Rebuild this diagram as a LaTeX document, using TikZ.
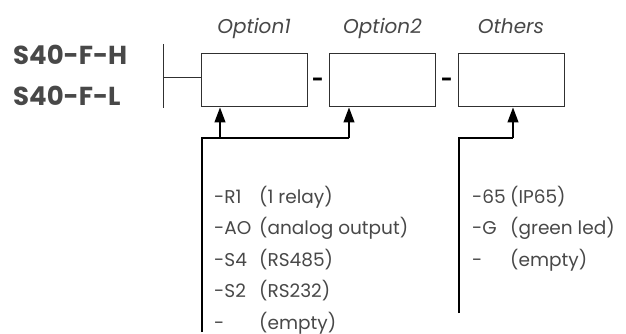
\documentclass[tikz,border=0pt]{standalone}
\usepackage{fontspec}
\setmainfont{Poppins}
\usetikzlibrary{arrows.meta}
\definecolor{txtgray}{HTML}{484848}
\definecolor{linegray}{HTML}{303030}
\tikzset{
  optbox/.style={draw=linegray,line width=1pt,minimum width=106pt,minimum height=53pt,inner sep=0pt},
  optlabel/.style={anchor=base,text=txtgray,font=\fontsize{20}{22}\selectfont\itshape},
  typename/.style={anchor=base west,text=txtgray,font=\fontsize{26}{28}\selectfont\bfseries,inner sep=0pt},
  listtxt/.style={anchor=base west,text=txtgray,font=\fontsize{18.5}{20}\selectfont,inner sep=0pt},
  feed/.style={draw=black,line width=1.3pt},
  arr/.style={feed,-{Triangle[length=15pt,width=11pt]}}
}
\begin{document}
\begin{tikzpicture}[x=1pt,y=-1pt]
            \useasboundingbox (0,0) rectangle (626,334);
            % type names
            \node[typename] (typeH) at (13,65) {S40-F-H};
            \node[typename] (typeL) at (13,106) {S40-F-L};
            % boxes
            \node[optbox] (opt1) at (254,80.5) {};
            \node[optbox] (opt2) at (382.5,80.5) {};
            \node[optbox] (others) at (511,80.5) {};
            \node[optlabel] (lab1) at (opt1.north |- 0,34) {Option1};
            \node[optlabel] (lab2) at (opt2.north |- 0,34) {Option2};
            \node[optlabel] (lab3) at (others.north |- 0,34) {Others};
            \node[font=\fontsize{20}{22}\selectfont\bfseries] (sep1) at (318,82) {-};
            \node[font=\fontsize{20}{22}\selectfont\bfseries] (sep2) at (447,82) {-};
            % bar
            \coordinate (bartop) at (163,44);
            \coordinate (barbot) at (163,108);
            \coordinate (barmid) at (163,78);
            \draw[linegray,line width=1pt] (bartop) -- (barbot);
            \draw[linegray,line width=1pt] (barmid) -- (barmid -| opt1.west);
            % feeds
            \coordinate (l1bot) at (202,332);
            \coordinate (l1top) at (202,138);
            \coordinate (j1) at (220,138);
            \coordinate (j2) at (349,138);
            \draw[feed] (l1bot) -- (l1top) -- (j2);
            \draw[arr] (j1) -- (j1 |- opt1.south);
            \draw[arr] (j2) -- (j2 |- opt2.south);
            \coordinate (l2bot) at (459,313);
            \coordinate (l2top) at (459,138);
            \coordinate (j3) at (513,138);
            \draw[feed] (l2bot) -- (l2top) -- (j3);
            \draw[arr] (j3) -- (j3 |- others.south);
            % codes
            \foreach \code/\desc [count=\i] in {-R1/(1 relay),-AO/(analog output),-S4/(RS485),-S2/(RS232),-/(empty)}{
              \node[listtxt] (codeA\i) at (214,203+31.5*\i-31.5) {\code};
              \node[listtxt] (descA\i) at (259,203+31.5*\i-31.5) {\desc};
            }
            \foreach \code/\desc [count=\i] in {-65/(IP65),-G/(green led),-/(empty)}{
              \node[listtxt] (codeB\i) at (472,203+31.5*\i-31.5) {\code};
              \node[listtxt] (descB\i) at (510,203+31.5*\i-31.5) {\desc};
            }
        \end{tikzpicture}
\end{document}
